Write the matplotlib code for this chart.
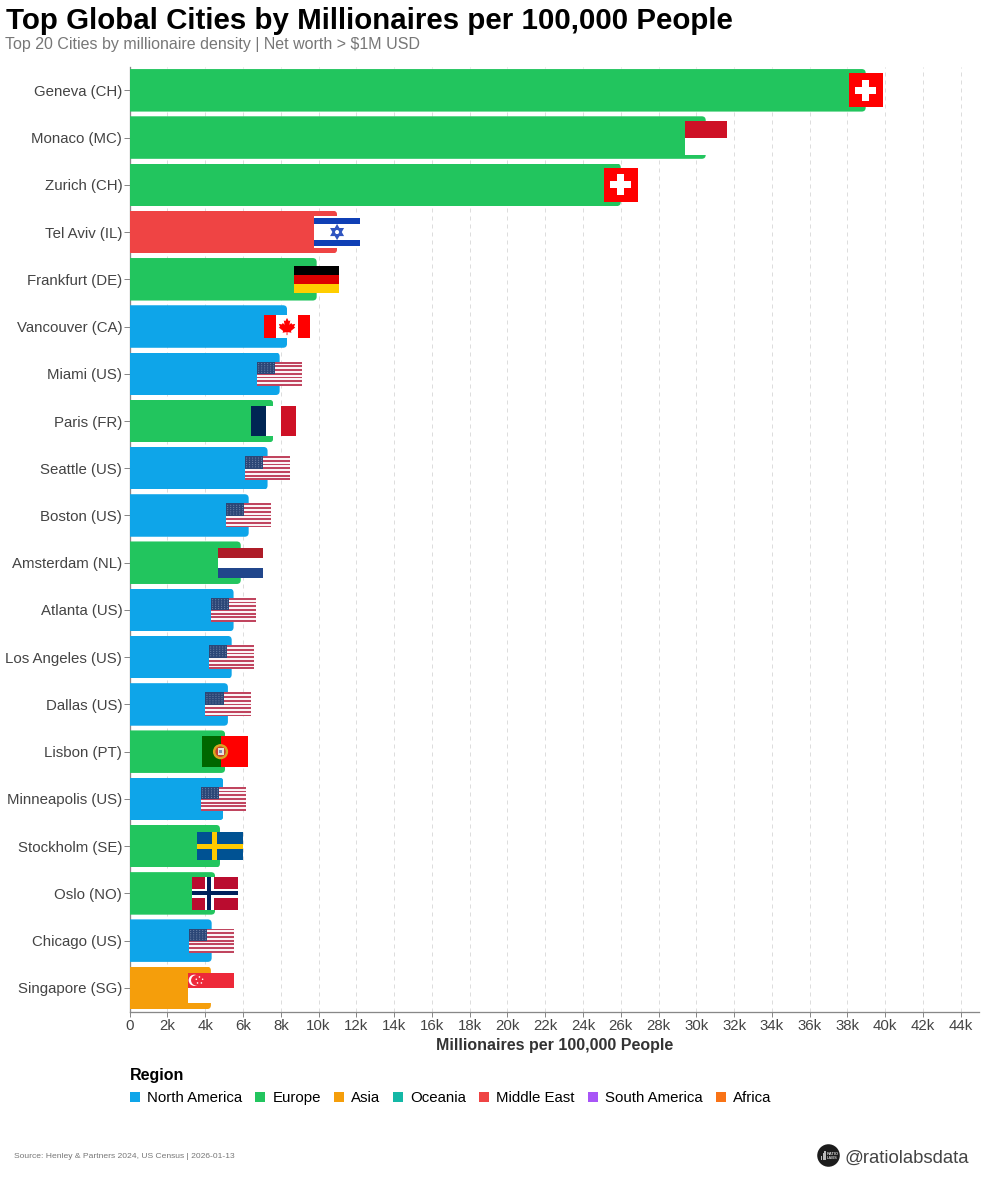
"""
Top Global Cities by Millionaires per 100,000 People

- Horizontal bars coloured by region.
- Small flags drawn by hand, centred on the end of each bar.
"""

import numpy as np
import matplotlib
matplotlib.use("Agg")
import matplotlib.pyplot as plt
from matplotlib.patches import Rectangle, Circle, Polygon, FancyBboxPatch, Patch
from matplotlib.transforms import Affine2D, ScaledTranslation

# ---------- DATA ----------
CITIES = [
    "Geneva (CH)", "Monaco (MC)", "Zurich (CH)", "Tel Aviv (IL)", "Frankfurt (DE)",
    "Vancouver (CA)", "Miami (US)", "Paris (FR)", "Seattle (US)", "Boston (US)",
    "Amsterdam (NL)", "Atlanta (US)", "Los Angeles (US)", "Dallas (US)", "Lisbon (PT)",
    "Minneapolis (US)", "Stockholm (SE)", "Oslo (NO)", "Chicago (US)", "Singapore (SG)",
]
VALUES = [
    38970, 30500, 26000, 10980, 9900,
    8330, 7940, 7600, 7300, 6300,
    5880, 5500, 5400, 5200, 5050,
    4960, 4780, 4520, 4340, 4300,
]
REGIONS = [
    "Europe", "Europe", "Europe", "Middle East", "Europe",
    "North America", "North America", "Europe", "North America", "North America",
    "Europe", "North America", "North America", "North America", "Europe",
    "North America", "Europe", "Europe", "North America", "Asia",
]
COUNTRIES = [
    "CH", "MC", "CH", "IL", "DE",
    "CA", "US", "FR", "US", "US",
    "NL", "US", "US", "US", "PT",
    "US", "SE", "NO", "US", "SG",
]
REGION_NAMES = ["North America", "Europe", "Asia", "Oceania", "Middle East", "South America", "Africa"]
REGION_COLORS = ["#0ea5e9", "#22c55e", "#f59e0b", "#14b8a6", "#ef4444", "#a855f7", "#f97316"]
X_TICKS = list(range(0, 46000, 2000))
X_TICK_LABELS = ["0"] + [f"{v // 1000}k" for v in X_TICKS[1:]]

# ---------- CONFIG ----------
W, H, DPI = 984, 1200, 100
AX_LEFT, AX_RIGHT, AX_TOP, AX_BOTTOM = 129.7, 979, 66.7, 1011.5
X_MAX = 44970
FONT = "Liberation Sans"
PX = 72 / DPI  # points per pixel
BAR_RADIUS = 4
FLAG_W = 45.3


def px_x(x):
    return x / W


def px_y(y):
    return 1 - y / H


def rect(ax, tr, x0, y0, w, h, color, z=5):
    ax.add_patch(Rectangle((x0, y0), w, h, facecolor=color, edgecolor="none",
                           transform=tr, clip_on=False, zorder=z))


def flag_stripes(ax, tr, w, h, colors, vertical=False):
    n = len(colors)
    for k, c in enumerate(colors):
        if vertical:
            rect(ax, tr, -w / 2 + k * w / n, -h / 2, w / n, h, c)
        else:
            rect(ax, tr, -w / 2, -h / 2 + k * h / n, w, h / n, c)


def flag_ch(ax, tr):
    rect(ax, tr, -17, -17, 34, 34, "#ff0000")
    rect(ax, tr, -10.7, -3.7, 21.4, 7.4, "white", 6)
    rect(ax, tr, -3.7, -10.7, 7.4, 21.4, "white", 6)


def flag_mc(ax, tr):
    flag_stripes(ax, tr, 42.4, 34, ["#ce1126", "white"])


def flag_il(ax, tr):
    w, h = FLAG_W, 32.7
    rect(ax, tr, -w / 2, -h / 2, w, h, "white")
    rect(ax, tr, -w / 2, -13.6, w, 5.4, "#0f3fb5", 6)
    rect(ax, tr, -w / 2, 8.2, w, 5.4, "#0f3fb5", 6)
    for sign in (1, -1):
        tri = [(0, -6 * sign), (5.2, 3 * sign), (-5.2, 3 * sign)]
        ax.add_patch(Polygon(tri, closed=True, fill=False, edgecolor="#2f55c0", linewidth=1.5 * PX * 1.4,
                             transform=tr, clip_on=False, zorder=6))


def flag_de(ax, tr):
    flag_stripes(ax, tr, FLAG_W, 27.2, ["#000000", "#dd0000", "#ffce00"])


def flag_ca(ax, tr):
    w, h = FLAG_W, 22.7
    rect(ax, tr, -w / 2, -h / 2, w, h, "white")
    rect(ax, tr, -w / 2, -h / 2, w / 4, h, "#ff0000", 6)
    rect(ax, tr, w / 4, -h / 2, w / 4, h, "#ff0000", 6)
    leaf = [(0, -1), (-.2, -.62), (-.38, -.72), (-.28, -.2), (-.5, -.42), (-.58, -.25), (-.95, -.3),
            (-.82, .02), (-.95, .12), (-.45, .52), (-.52, .72), (-.05, .65), (-.05, 1), (.05, 1),
            (.05, .65), (.52, .72), (.45, .52), (.95, .12), (.82, .02), (.95, -.3), (.58, -.25),
            (.5, -.42), (.28, -.2), (.38, -.72), (.2, -.62)]
    ax.add_patch(Polygon(np.array(leaf) * 8.6, closed=True, facecolor="#ff0000", edgecolor="none",
                         transform=tr, clip_on=False, zorder=6))


def flag_us(ax, tr):
    w, h = FLAG_W, 24
    colors = ["#c0455f" if k % 2 == 0 else "#fbf4f5" for k in range(13)]
    flag_stripes(ax, tr, w, h, colors)
    rect(ax, tr, -w / 2, -h / 2, 18.3, 12.4, "#2c4777", 6)
    for row in range(5):
        for col in range(6):
            ax.add_patch(Circle((-w / 2 + 1.7 + col * 3, -h / 2 + 1.8 + row * 2.2), 0.5,
                                facecolor="#8093b4", edgecolor="none", transform=tr,
                                clip_on=False, zorder=7))


def flag_fr(ax, tr):
    flag_stripes(ax, tr, FLAG_W, 30.4, ["#002654", "white", "#ce1126"], vertical=True)


def flag_nl(ax, tr):
    flag_stripes(ax, tr, FLAG_W, 30.4, ["#ae1c28", "white", "#21468b"])


def flag_pt(ax, tr):
    w, h = FLAG_W, 30.6
    rect(ax, tr, -w / 2, -h / 2, w * 0.4, h, "#006600")
    rect(ax, tr, -w / 2 + w * 0.4, -h / 2, w * 0.6, h, "#ff0000")
    cx = -w / 2 + w * 0.4
    ax.add_patch(Circle((cx, 0), 7.6, facecolor="#d9a521", edgecolor="none", transform=tr, clip_on=False, zorder=6))
    ax.add_patch(Circle((cx, 0), 5.2, facecolor="#c8402f", edgecolor="none", transform=tr, clip_on=False, zorder=7))
    rect(ax, tr, cx - 3, -3.2, 6, 6.6, "#e8e4dc", 8)
    rect(ax, tr, cx - 1.2, -1.6, 2.4, 3.2, "#7f8fb5", 9)


def flag_se(ax, tr):
    w, h = FLAG_W, 28.4
    rect(ax, tr, -w / 2, -h / 2, w, h, "#005293")
    rect(ax, tr, -w / 2 + 14.4, -h / 2, 5.6, h, "#fecb00", 6)
    rect(ax, tr, -w / 2, -h / 2 + 11.6, w, 5.6, "#fecb00", 6)


def flag_no(ax, tr):
    w, h = FLAG_W, 32.7
    rect(ax, tr, -w / 2, -h / 2, w, h, "#ba0c2f")
    rect(ax, tr, -w / 2 + 12.4, -h / 2, 8.7, h, "white", 6)
    rect(ax, tr, -w / 2, -4.35, w, 8.7, "white", 6)
    rect(ax, tr, -w / 2 + 14.7, -h / 2, 4, h, "#00205b", 7)
    rect(ax, tr, -w / 2, -2, w, 4, "#00205b", 7)


def flag_sg(ax, tr):
    w, h = FLAG_W, 30.4
    flag_stripes(ax, tr, w, h, ["#ed2939", "white"])
    cx, cy = -w / 2 + 6, -7.6
    ax.add_patch(Circle((cx, cy), 5.6, facecolor="white", edgecolor="none", transform=tr, clip_on=False, zorder=6))
    ax.add_patch(Circle((cx + 2, cy), 5.2, facecolor="#ed2939", edgecolor="none", transform=tr, clip_on=False, zorder=7))
    for a in np.deg2rad([-90, -18, 54, 126, 198]):
        ax.add_patch(Circle((cx + 5.2 + 3.3 * np.cos(a), cy + 3.3 * np.sin(a)), 0.8, facecolor="white",
                            edgecolor="none", transform=tr, clip_on=False, zorder=8))


FLAGS = {"CH": flag_ch, "MC": flag_mc, "IL": flag_il, "DE": flag_de, "CA": flag_ca, "US": flag_us,
         "FR": flag_fr, "NL": flag_nl, "PT": flag_pt, "SE": flag_se, "NO": flag_no, "SG": flag_sg}


def draw_chart():
    plt.rcParams["font.family"] = [FONT, "DejaVu Sans"]
    fig = plt.figure(figsize=(W / DPI, H / DPI), dpi=DPI)
    ax = fig.add_axes([px_x(AX_LEFT), px_y(AX_BOTTOM), px_x(AX_RIGHT - AX_LEFT), (AX_BOTTOM - AX_TOP) / H])

    color_of = dict(zip(REGION_NAMES, REGION_COLORS))
    y_pos = np.arange(len(CITIES))
    bars = ax.barh(y_pos, VALUES, height=0.9, color=[color_of[r] for r in REGIONS], zorder=3)
    ax.set_xlim(0, X_MAX)
    ax.set_ylim(len(CITIES) - 0.5, -0.5)

    # Rounded right end of each bar and the flag on top of it
    bar_h = 0.9 * (AX_BOTTOM - AX_TOP) / len(CITIES)
    for i, (bar, val, code) in enumerate(zip(bars, VALUES, COUNTRIES)):
        tr = Affine2D().scale(1, -1) + ScaledTranslation(val, i, ax.transData)
        clip = FancyBboxPatch((-W, -bar_h / 2), W, bar_h,
                              boxstyle=f"round,pad=0,rounding_size={BAR_RADIUS}", transform=tr)
        bar.set_clip_path(clip)
        FLAGS[code](ax, tr)

    ax.set_xticks(X_TICKS)
    ax.set_xticklabels(X_TICK_LABELS, fontsize=15 * PX, color="#444444")
    ax.set_yticks(y_pos)
    ax.set_yticklabels(CITIES, fontsize=15 * PX, color="#444444")
    ax.tick_params(axis="x", length=5 * PX, width=1 * PX, color="#888888", pad=2)
    ax.tick_params(axis="y", length=6 * PX, width=1 * PX, color="#888888", pad=1)
    ax.grid(axis="x", color="#dddddd", linestyle=(0, (4, 4)), linewidth=1 * PX, zorder=1)
    ax.set_axisbelow(True)
    for side in ("top", "right"):
        ax.spines[side].set_visible(False)
    for side in ("left", "bottom"):
        ax.spines[side].set_color("#888888")
        ax.spines[side].set_linewidth(1 * PX * 1.3)

    # Titles
    fig.text(px_x(6), px_y(29), "Top Global Cities by Millionaires per 100,000 People",
             fontsize=29.5 * PX, fontweight="bold", color="black", va="baseline")
    fig.text(px_x(5), px_y(49), "Top 20 Cities by millionaire density | Net worth > $1M USD",
             fontsize=16 * PX, color="#777777", va="baseline")
    fig.text(px_x(554.5), px_y(1050), "Millionaires per 100,000 People", fontsize=16 * PX,
             fontweight="bold", color="#333333", ha="center", va="baseline")

    # Legend
    handles = [Patch(facecolor=c, edgecolor="none", label=n) for n, c in zip(REGION_NAMES, REGION_COLORS)]
    leg = fig.legend(handles=handles, title="Region", ncol=len(handles), loc="upper left",
                     bbox_to_anchor=(px_x(130), px_y(1068)), frameon=False, fontsize=15 * PX,
                     title_fontproperties={"size": 16 * PX, "weight": "bold", "family": FONT},
                     alignment="left", borderpad=0, borderaxespad=0, handlelength=0.67, handleheight=0.67,
                     handletextpad=0.47, columnspacing=0.87, labelcolor="black")
    leg._legend_box.sep = 6

    # Footer
    fig.text(px_x(14), px_y(1158), "Source: Henley & Partners 2024, US Census | 2026-01-13",
             fontsize=8.5 * PX, color="#777777", va="baseline")
    fig.text(px_x(844), px_y(1163), "@ratiolabsdata", fontsize=18.5 * PX, color="#444444", va="baseline")

    # Logo badge
    logo = fig.add_axes([px_x(817), px_y(1167), 23 / W, 23 / H])
    logo.set_xlim(-1, 1)
    logo.set_ylim(-1, 1)
    logo.axis("off")
    logo.add_patch(Circle((0, 0), 0.98, facecolor="#1c1c1c", edgecolor="none"))
    logo.bar([-0.62, -0.46, -0.3], [0.35, 0.55, 0.75], width=0.11, bottom=-0.35, color="#bbbbbb")
    logo.text(-0.18, 0.12, "RATIO", fontsize=3.6 * PX * 1.1, fontweight="bold", color="#cccccc", va="center")
    logo.text(-0.18, -0.2, "LABS", fontsize=3.6 * PX * 1.1, fontweight="bold", color="#cccccc", va="center")

    fig.savefig("out.png", dpi=DPI, facecolor="white")


def main():
    draw_chart()


if __name__ == "__main__":
    main()
